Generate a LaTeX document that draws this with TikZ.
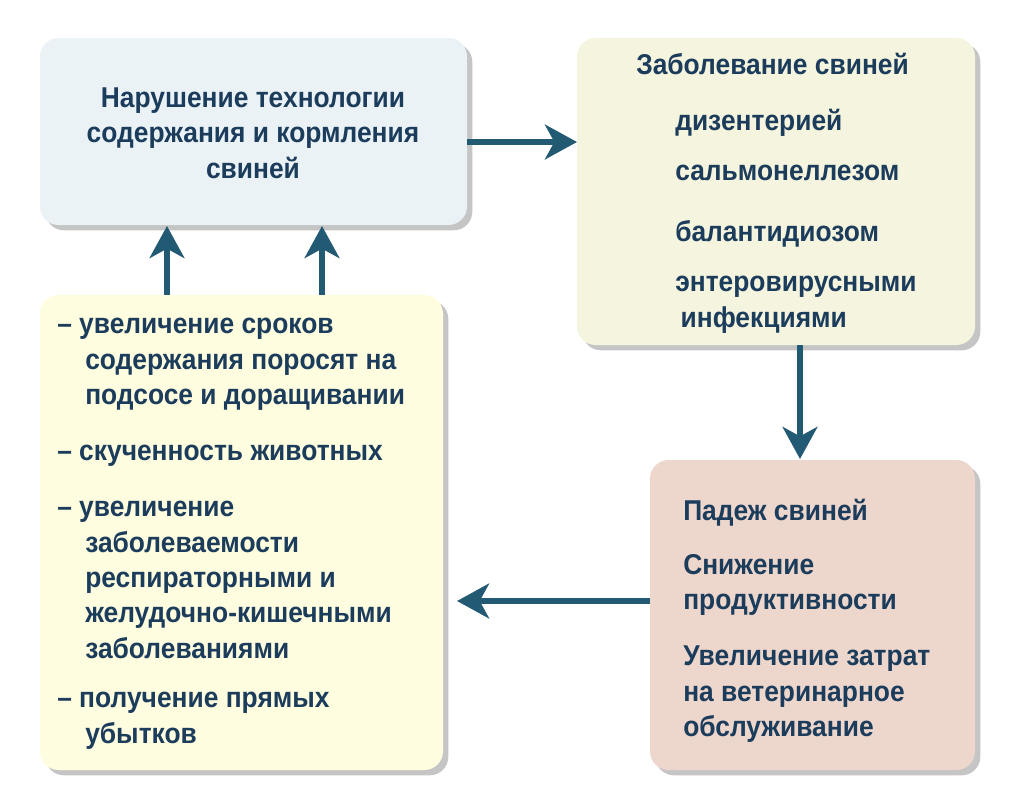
\documentclass[tikz,border=0pt]{standalone}
\usepackage{fontspec}
\setmainfont[FakeStretch=0.92]{Liberation Sans}
\usetikzlibrary{positioning, shadows, arrows.meta}
\definecolor{arrowblue}{HTML}{235A73}
\definecolor{textblue}{HTML}{1C3C5C}
\definecolor{boxblue}{HTML}{EAF2F5}
\definecolor{boxcream}{HTML}{F5F5DF}
\definecolor{boxyellow}{HTML}{FFFDE0}
\definecolor{boxpink}{HTML}{EDD6CC}
\tikzset{
  box/.style={rounded corners=14pt, drop shadow={shadow xshift=4pt, shadow yshift=-4pt, opacity=0.45}},
  txt/.style={text=textblue, font=\fontsize{21.5}{26.5}\selectfont\bfseries, inner sep=0pt, align=left, anchor=north west},
  link/.style={draw=arrowblue, line width=4.5pt, -{Stealth[length=24pt, width=26pt, inset=7pt]}}
}
\begin{document}
\begin{tikzpicture}[x=0.75pt, y=-0.75pt]
      \useasboundingbox[fill=white] (0,0) rectangle (1024,810);

      % boxes
      \fill[box, boxblue]   (40,38)   rectangle (467,225);
      \fill[box, boxcream]  (577,38)  rectangle (975,345);
      \fill[box, boxyellow] (40,295)  rectangle (443,770);
      \fill[box, boxpink]   (650,460) rectangle (975,770);

      \coordinate (tlout) at (467,142);
      \coordinate (trin)  at (577,142);
      \coordinate (up1a) at (167,295);
      \coordinate (up1b) at (167,226);
      \coordinate (up2a) at (322,295);
      \coordinate (up2b) at (322,226);
      \coordinate (dna) at (800,345);
      \coordinate (dnb) at (800,459);
      \coordinate (lfa) at (650,601);
      \coordinate (lfb) at (457,601);

      % texts
      \node[txt, align=center, anchor=center] (cause) at (253,133) {Нарушение технологии\\содержания и кормления\\свиней};

      \node[txt] (dis) at (636,53) {Заболевание свиней};
      \node[txt] (dis1) at (675,109) {дизентерией};
      \node[txt] (dis2) at (675,165) {сальмонеллезом};
      \node[txt] (dis3) at (675,220) {балантидиозом};
      \node[txt] (dis4) at (675,276) {энтеровирусными\\\hspace*{4pt}инфекциями};

      \node[txt] (f1) at (57,318) {– увеличение сроков\\\hspace*{21pt}содержания поросят на\\\hspace*{21pt}подсосе и доращивании};
      \node[txt] (f2) at (57,445) {– скученность животных};
      \node[txt] (f3) at (57,501) {– увеличение\\\hspace*{21pt}заболеваемости\\\hspace*{21pt}респираторными и\\\hspace*{21pt}желудочно-кишечными\\\hspace*{21pt}заболеваниями};
      \node[txt] (f4) at (57,692) {– получение прямых\\\hspace*{21pt}убытков};

      \node[txt] (r1) at (683,499) {Падеж свиней};
      \node[txt] (r2) at (683,554) {Снижение\\продуктивности};
      \node[txt] (r3) at (683,646) {Увеличение затрат\\на ветеринарное\\обслуживание};

      % arrows
      \draw[link] (tlout) -- (trin);
      \draw[link] (up1a) -- (up1b);
      \draw[link] (up2a) -- (up2b);
      \draw[link] (dna) -- (dnb);
      \draw[link] (lfa) -- (lfb);
\end{tikzpicture}
\end{document}
